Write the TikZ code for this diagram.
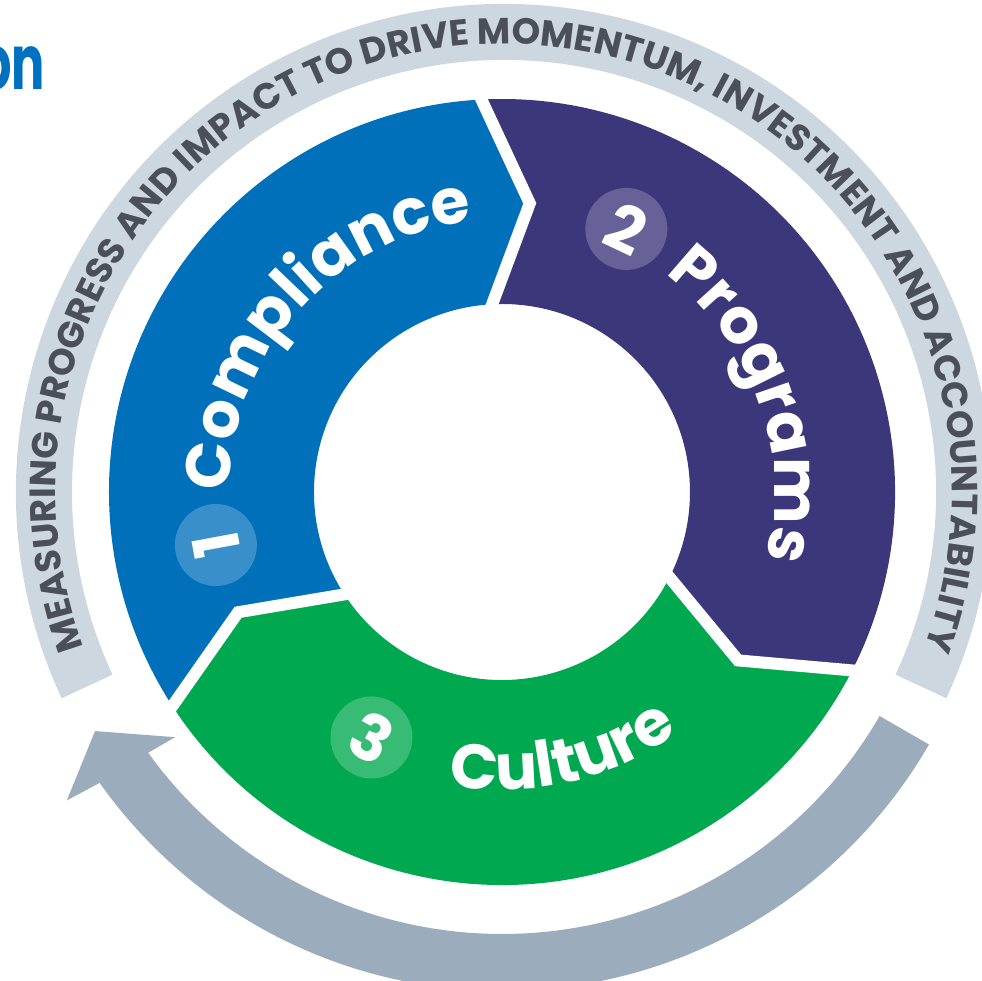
\documentclass[tikz,border=0pt]{standalone}
\usepackage{fontspec}
\setmainfont{Poppins}
\usetikzlibrary{decorations.text,calc}

\definecolor{cblue}{HTML}{0070BA}
\definecolor{cpurple}{HTML}{3B377A}
\definecolor{cgreen}{HTML}{00A94F}
\definecolor{bandlight}{HTML}{CDD7E0}
\definecolor{banddark}{HTML}{9BADBD}
\definecolor{bandtext}{HTML}{4B4F58}
\definecolor{titleblue}{HTML}{0070C0}

\newcommand\wordfont{\fontsize{63}{70}\selectfont\bfseries}
\newcommand\digitfont{\fontsize{64}{70}\selectfont\bfseries}
\newcommand\bandfont{\fontsize{36.4}{40}\selectfont\bfseries}
\newcommand\titlefont{\fontsize{76}{80}\selectfont\bfseries}

% one coloured part of the ring between boundary angles #2 < #3
\newcommand\ringpart[3]{%
  \fill[#1] (#2:188) -- (#2-8.5:290) -- (#2:393)
    arc[start angle=#2, end angle=#3, radius=393]
    -- (#3-8.5:290) -- (#3:188)
    arc[start angle=#3, end angle=#2, radius=188] -- cycle;}
% white chevron gap along a boundary angle
\newcommand\ringgap[1]{%
  \draw[gapline] ($(#1-8.5:290)!1.15!(#1:188)$) -- (#1-8.5:290)
    -- ($(#1-8.5:290)!1.08!(#1:393)$);}

\tikzset{
  gapline/.style={white, line width=12, line join=miter, miter limit=20},
  numdisc/.style={circle, fill=white, fill opacity=0.22, text opacity=1,
    text=white, minimum size=82, inner sep=0, font=\digitfont},
}

\begin{document}
\begin{tikzpicture}[x=1pt,y=1pt]
\useasboundingbox (-502,-488) rectangle (480,492);

% title fragment
\node[anchor=base east, inner sep=0, text=titleblue, font=\titlefont]
  (title) at (-457,402) {\scalebox{0.65}[1]{on}};

% outer text band
\begin{scope}[shift={(2,0)}]
  \fill[bandlight] (205:488) arc[start angle=205, end angle=-25, radius=488]
    -- (-25:432) arc[start angle=-25, end angle=205, radius=432] -- cycle;
  \path[decorate, decoration={text along path, text align=center,
      text={|\bandfont\color{bandtext}|MEASURING PROGRESS AND IMPACT TO DRIVE MOMENTUM, INVESTMENT AND ACCOUNTABILITY}}]
    (206:448) arc[start angle=206, end angle=-26, radius=448];
\end{scope}

% returning arrow
\begin{scope}[shift={(0,-6)}]
  \fill[banddark] (-30:493) arc[start angle=-30, end angle=-144.7, radius=493]
    -- (-145.2:530) -- (-150.2:469) -- (-143.8:405) -- (-144.25:436)
    arc[start angle=-144.25, end angle=-30, radius=436] -- cycle;
\end{scope}

% ring parts
\ringpart{cblue}{93}{213}
\ringpart{cpurple}{-27}{93}
\ringpart{cgreen}{-147}{-27}
\ringgap{93}
\ringgap{-27}
\ringgap{213}

% numbered discs
\node[numdisc, rotate=100.5] (one) at (190.5:291) {1};
\node[numdisc, rotate=-25.3] (two) at (64.7:291) {2};
\node[numdisc, rotate=-28] (three) at (242:278) {3};

% ring labels
\path[decorate, decoration={text along path, text align=center,
    text={|\wordfont\color{white}|Compliance}}]
  (199:272) arc[start angle=199, end angle=77, radius=272];
\path[decorate, decoration={text along path, text align=center,
    text={|\wordfont\color{white}|Programs}}]
  (80:272) arc[start angle=80, end angle=-41, radius=272];
\path[decorate, decoration={text along path, text align=center,
    text={|\wordfont\color{white}|Culture}}]
  (222:298) arc[start angle=222, end angle=344, radius=298];
\end{tikzpicture}
\end{document}
